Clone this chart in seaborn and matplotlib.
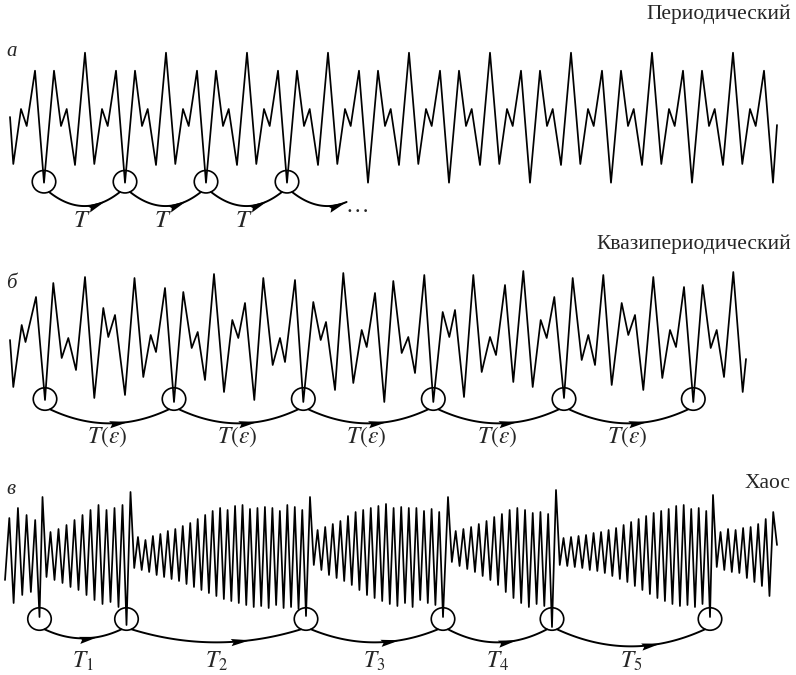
import numpy as np
import pandas as pd
import seaborn as sns
import matplotlib.pyplot as plt
from matplotlib.patches import Ellipse

# --------------------------- SETTINGS ---------------------------
sns.set_theme(style="white")
plt.rcParams['font.family'] = ['Liberation Serif', 'DejaVu Serif']
plt.rcParams['mathtext.fontset'] = 'stix'

# --------------------------- DATA ---------------------------
# periodic signal: extrema of one period (time offset, height above deepest trough)
periodic_t = [0, 9.3, 17, 22.7, 31, 40, 50, 57, 62.7, 71]
periodic_h = [130, 18.7, 73.7, 56.7, 112, 0, 112, 56.7, 73.7, 17.7]
periodic_period = 81
periodic_phase = 4
periodic_first = (10, 65.7)
periodic_last = (777, 57.7)
periodic_events = [44, 125, 206, 287]

# quasi-periodic signal: extrema
quasi_t = [10, 13.3, 21.7, 25.5, 36, 45, 53.3, 61.7, 68.3, 76, 85, 94.3, 103.3, 108.3, 115,
           125, 134.5, 143.3, 150.7, 156, 165, 174, 183.3, 191.7, 197.7, 205, 214, 224,
           232.3, 238.3, 245, 254.3, 263.3, 272.7, 280, 285, 295, 303.3, 313.3, 320.7, 326,
           335, 343.3, 353.3, 361.7, 366.7, 375, 384.3, 393.3, 401.7, 408.3, 415, 424.3,
           433.3, 442.7, 449.3, 455, 464, 473.3, 481.7, 490, 496, 505, 513.3, 523.3, 532.7,
           540.7, 546.7, 554.3, 564, 572.7, 581.7, 588.3, 595, 603.3, 611.7, 621.7, 628.3,
           635, 643.3, 653.3, 662.3, 670, 676, 684, 693.3, 702.7, 710.7, 716.7, 724, 733.3,
           742.7, 746]
quasi_h = [62, 15, 77, 60, 105, 2, 119, 44, 64, 32, 125, 4, 94, 65, 87,
           7, 124, 25, 67, 50, 114, 0, 110, 54, 70, 22, 128, 10,
           82, 64, 99, 2, 124, 37, 64, 40, 122, 0, 100, 62, 80,
           12, 129, 19, 72, 55, 109, 0, 121, 49, 65, 29, 127,
           0, 90, 65, 92, 5, 127, 30, 65, 47, 117, 20, 131, 15,
           82, 64, 105, 4, 124, 42, 67, 37, 127, 17, 99, 67,
           87, 12, 125, 24, 72, 55, 115, 0, 117, 54, 72, 25, 130,
           10, 43]
quasi_events = [45, 174, 303.3, 433.3, 564, 693.3]

# chaotic signal: bursts between the deep drops
chaos_start_x = 5
chaos_end_x = 777
chaos_end_h = 82
chaos_seg0_h = [47, 109, 24, 119, 32, 112, 35, 107]
chaos_deep_x = [39.5, 126.5, 306, 443, 552, 710]
chaos_deep_h = [10, 2, 11, 10, 0, 10]
chaos_spike_x = [42.5, 130.5, 310, 448, 556, 713]
chaos_spike_h = [130, 135, 130, 130, 137, 132]
chaos_troughs = [
    [50, 47, 44, 40, 37, 32, 27, 23, 25, 20],
    [59, 57, 55, 52, 50, 48, 46, 43, 40, 37, 34, 31, 28, 26, 24, 22, 20, 21, 19, 22, 19, 20, 18],
    [62, 57, 52, 49, 46, 42, 37, 32, 29, 26, 23, 21, 24, 20, 27, 24, 22],
    [65, 61, 58, 55, 51, 47, 42, 35, 29, 24, 20, 23, 21],
    [62, 61, 60, 59, 57, 56, 54, 51, 48, 45, 41, 37, 33, 29, 26, 23, 21, 22, 20, 23],
    [60, 57, 55, 54, 49, 45, 41, 31],
]
chaos_peaks = [
    [95, 98, 102, 107, 112, 117, 122, 117, 119, 122],
    [90, 87, 91, 93, 96, 98, 101, 104, 108, 112, 116, 119, 117, 121, 122, 118, 119, 120, 119, 116, 122, 120, 117],
    [97, 100, 103, 106, 111, 115, 117, 119, 121, 123, 119, 120, 119, 119, 116, 118, 115],
    [96, 98, 100, 103, 106, 110, 113, 117, 119, 117, 114, 115, 113],
    [89, 90, 91, 92, 94, 95, 97, 99, 102, 105, 108, 111, 114, 116, 118, 121, 122, 118, 119, 116],
    [95, 98, 97, 99, 100, 103, 108, 115],
]

titles = ['Периодический', 'Квазипериодический', 'Хаос']
panel_letters = ['а', 'б', 'в']
periodic_label = r'$T$'
quasi_label = r'$T(\varepsilon)$'
chaos_labels = [r'$T_1$', r'$T_2$', r'$T_3$', r'$T_4$', r'$T_5$']

# --------------------------- LAYOUT ---------------------------
W, H = 796, 675
base_y = [182.7, 402, 627]      # pixel row of height 0 in each panel
circle_y = [181.7, 399, 619]
R = 11.5
label_y = [221, 437, 661]
title_y = [14, 244, 483]
letter_y = [51, 284, 490]

# --------------------------- BUILD SERIES ---------------------------
a_t, a_h = [periodic_first[0]], [periodic_first[1]]
for k in range(10):
    for dt, h in zip(periodic_t, periodic_h):
        t = periodic_phase + k * periodic_period + dt
        if periodic_first[0] < t < periodic_last[0]:
            a_t.append(t)
            a_h.append(h)
a_t.append(periodic_last[0])
a_h.append(periodic_last[1])

c_t = list(np.linspace(chaos_start_x, chaos_deep_x[0], len(chaos_seg0_h) + 1))
c_h = chaos_seg0_h + [chaos_deep_h[0]]
for i in range(6):
    vals = [chaos_spike_h[i]]
    for tr, pk in zip(chaos_troughs[i], chaos_peaks[i]):
        vals += [tr, pk]
    if i < 5:
        vals.append(chaos_deep_h[i + 1])
        x_end = chaos_deep_x[i + 1]
    else:
        vals.append(chaos_end_h)
        x_end = chaos_end_x
    c_t += list(np.linspace(chaos_spike_x[i], x_end, len(vals)))
    c_h += vals

df = pd.concat([
    pd.DataFrame({'t': a_t, 'y': base_y[0] - np.array(a_h), 'panel': 'a'}),
    pd.DataFrame({'t': quasi_t, 'y': base_y[1] - np.array(quasi_h), 'panel': 'b'}),
    pd.DataFrame({'t': c_t, 'y': base_y[2] - np.array(c_h), 'panel': 'c'}),
], ignore_index=True)

# --------------------------- DRAW ---------------------------
fig = plt.figure(figsize=(W / 100, H / 100), dpi=100)
ax = fig.add_axes([0, 0, 1, 1])

sns.lineplot(data=df, x='t', y='y', units='panel', estimator=None, sort=False,
             color='black', lw=1.25, ax=ax, legend=False)


def bez(p0, p1, p2, t):
    t = np.asarray(t, dtype=float)[:, None]
    return (1 - t) ** 2 * p0 + 2 * (1 - t) * t * p1 + t ** 2 * p2


def arrow(x0, x1, cy, sag=14, t_tip=0.7, t_end=1.0):
    p0 = np.array([x0 + 0.45 * R, cy + 0.9 * R])
    p2 = np.array([x1 - 0.45 * R, cy + 0.9 * R])
    p1 = np.array([(p0[0] + p2[0]) / 2, p0[1] + 2 * sag])
    pts = bez(p0, p1, p2, np.linspace(0, t_end, 80))
    ax.plot(pts[:, 0], pts[:, 1], color='black', lw=1.4, solid_capstyle='round')
    tip = bez(p0, p1, p2, [t_tip])[0]
    d = 2 * (1 - t_tip) * (p1 - p0) + 2 * t_tip * (p2 - p1)
    d = d / np.linalg.norm(d)
    n = np.array([-d[1], d[0]])
    b = tip - d * 19
    poly = np.array([tip, b + n * 3.6, b + d * 2.5, b - n * 3.6])
    ax.fill(poly[:, 0], poly[:, 1], color='black', lw=0)


def circles(events, cy):
    for x in events:
        ax.add_patch(Ellipse((x, cy), 23.5, 22.5, fill=False, ec='black', lw=1.2))


# panel a
circles(periodic_events, circle_y[0])
for x0, x1 in zip(periodic_events[:-1], periodic_events[1:]):
    arrow(x0, x1, circle_y[0], t_tip=0.8)
    ax.text((x0 + x1) / 2 - 3, label_y[0], periodic_label, fontsize=18, ha='center', va='center')
arrow(periodic_events[-1], periodic_events[-1] + periodic_period, circle_y[0],
      t_tip=0.77, t_end=0.77)
ax.text(periodic_events[-1] + 58, label_y[0] - 15, '…', fontsize=17, ha='left', va='center')

# panel b
circles(quasi_events, circle_y[1])
for x0, x1 in zip(quasi_events[:-1], quasi_events[1:]):
    arrow(x0, x1, circle_y[1], t_tip=0.66)
    ax.text((x0 + x1) / 2 - 2, label_y[1], quasi_label, fontsize=17, ha='center', va='center')

# panel c
chaos_sag = [9, 13, 13, 13, 17]
circles(chaos_deep_x, circle_y[2])
for i, (x0, x1) in enumerate(zip(chaos_deep_x[:-1], chaos_deep_x[1:])):
    arrow(x0, x1, circle_y[2], sag=chaos_sag[i], t_tip=0.7)
    ax.text((x0 + x1) / 2, label_y[2], chaos_labels[i], fontsize=17, ha='center', va='center')

for i in range(3):
    ax.text(791, title_y[i], titles[i], fontsize=15.5, ha='right', va='center')
    ax.text(6, letter_y[i], panel_letters[i], fontsize=15, fontstyle='italic',
            ha='left', va='center')

ax.set_xlim(0, W)
ax.set_ylim(H, 0)
ax.axis('off')

fig.savefig('out.png', dpi=100)
